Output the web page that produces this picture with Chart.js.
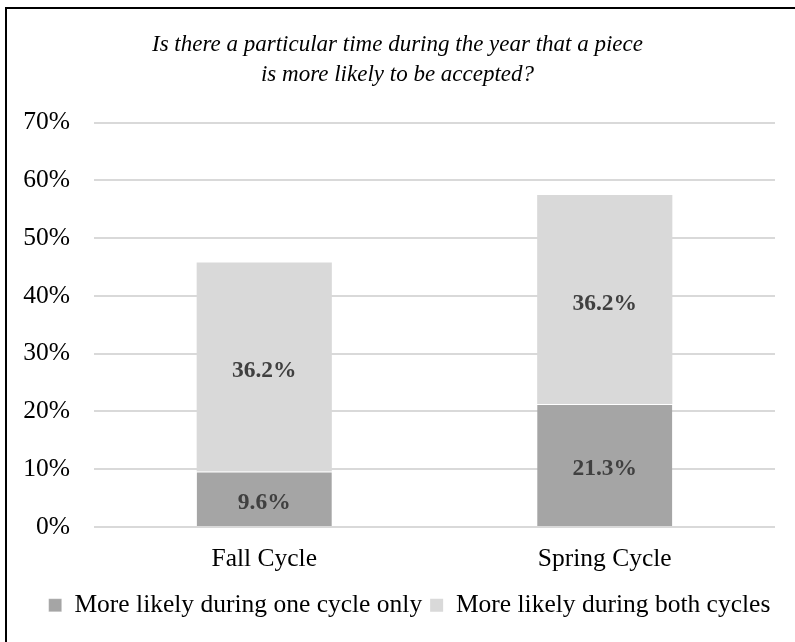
<!DOCTYPE html>
<html>
<head>
<meta charset="utf-8">
<script src="https://cdn.jsdelivr.net/npm/chart.js@4/dist/chart.umd.min.js"></script>
<style>
    html, body { margin: 0; padding: 0; background: #fff; overflow: hidden; }
    #wrap { position: relative; width: 795px; height: 642px; }
    #frame {
        position: absolute; left: 5px; top: 7px; width: 820px; height: 660px;
        border-left: 2px solid #000; border-top: 2px solid #000; pointer-events: none;
    }
    canvas { position: absolute; left: 0; top: 0; }
</style>
</head>
<body>
<div id="wrap">
    <canvas id="barChart" width="795" height="642"></canvas>
    <div id="frame"></div>
</div>
<script>
var categories = ['Fall Cycle', 'Spring Cycle'];
var oneCycleOnly = [9.6, 21.3];
var bothCycles = [36.2, 36.2];
var seriesNames = ['More likely during one cycle only', 'More likely during both cycles'];
var titleLines = ['Is there a particular time during the year that a piece', 'is more likely to be accepted?'];

var serif = '"Liberation Serif", "Times New Roman", serif';

// draws the value in the middle of each bar segment
var segmentLabels = {
    id: 'segmentLabels',
    afterDatasetsDraw: function(chart) {
        var ctx = chart.ctx;
        ctx.save();
        ctx.font = 'bold 23.5px ' + serif;
        ctx.fillStyle = '#404040';
        ctx.textAlign = 'center';
        ctx.textBaseline = 'middle';
        chart.data.datasets.forEach(function(ds, i) {
            chart.getDatasetMeta(i).data.forEach(function(bar, j) {
                var mid = (bar.y + bar.base) / 2;
                ctx.fillText(ds.data[j].toFixed(1) + '%', bar.x, mid + 4);
            });
        });
        ctx.restore();
    }
};

// the legend sits a little right of centre in the original
var nudgeLegend = {
    id: 'nudgeLegend',
    afterLayout: function(chart) {
        chart.legend.left += 12;
        chart.legend.right += 12;
    }
};

new Chart(document.getElementById('barChart'), {
    type: 'bar',
    data: {
        labels: categories,
        datasets: [{
            label: seriesNames[0],
            data: oneCycleOnly,
            backgroundColor: '#a5a5a5',
            borderColor: '#ffffff',
            borderWidth: { top: 1, left: 0, right: 0, bottom: 0 },
            borderSkipped: false
        }, {
            label: seriesNames[1],
            data: bothCycles,
            backgroundColor: '#d9d9d9',
            borderWidth: 0
        }]
    },
    options: {
        responsive: false,
        animation: false,
        layout: { padding: { left: 20, right: 20, top: 0, bottom: 14 } },
        datasets: { bar: { barPercentage: 1, categoryPercentage: 0.397 } },
        plugins: {
            title: {
                display: true,
                text: titleLines,
                color: '#000',
                font: { family: serif, size: 23, style: 'italic', weight: 'normal', lineHeight: 1.32 },
                padding: { top: 29.5, bottom: 32.5 }
            },
            legend: {
                position: 'bottom',
                labels: {
                    color: '#000',
                    font: { family: serif, size: 25.5 },
                    boxWidth: 13,
                    boxHeight: 13,
                    padding: 8
                }
            },
            tooltip: { enabled: false }
        },
        scales: {
            x: {
                stacked: true,
                grid: { display: false },
                border: { display: false },
                ticks: { color: '#000', font: { family: serif, size: 25.5 }, padding: 9 },
                afterFit: function(scale) { scale.height = 57.5; }
            },
            y: {
                stacked: true,
                min: 0,
                max: 70,
                ticks: {
                    stepSize: 10,
                    color: '#000',
                    padding: 24,
                    font: { family: serif, size: 25.5 },
                    callback: function(v) { return v + '%'; }
                },
                grid: { color: '#d9d9d9', lineWidth: 2, drawTicks: false },
                border: { display: false },
                afterFit: function(scale) { scale.width = 74; }
            }
        }
    },
    plugins: [segmentLabels, nudgeLegend]
});
</script>
</body>
</html>
